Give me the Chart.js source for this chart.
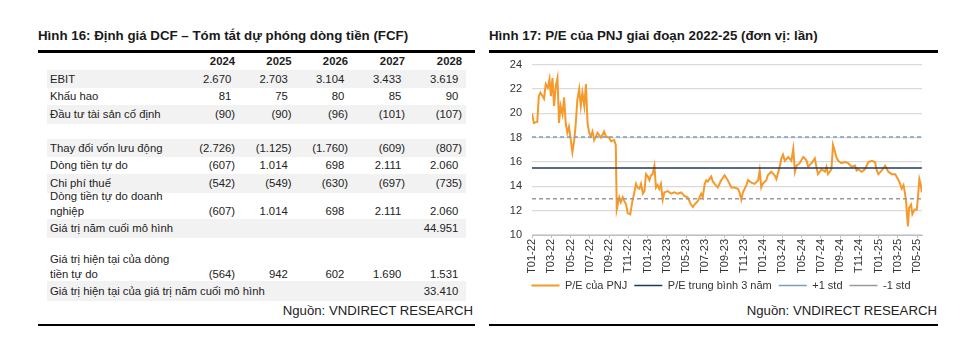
<!DOCTYPE html>
<html lang="vi">
<head>
<meta charset="utf-8">
<script src="https://cdn.jsdelivr.net/npm/chart.js@4.4.1/dist/chart.umd.min.js"></script>
<style>
  body { margin:0; width:979px; height:347px; background:#fff; font-family:"Liberation Sans", Arial, sans-serif; color:#222; position:relative; overflow:hidden; }
  .title { position:absolute; top:28px; font-size:13.3px; font-weight:bold; white-space:nowrap; color:#1a1a1a; }
  .rule { position:absolute; background:#000; }
  .src { position:absolute; top:303px; font-size:13.2px; white-space:nowrap; color:#222; }
  .row { position:absolute; left:47px; width:419px; font-size:11.3px; }
  .row.shade { background:#f2f2f2; }
  .lbl { position:absolute; left:3px; top:0; white-space:nowrap; }
  .val { position:absolute; top:0; white-space:nowrap; text-align:right; }
  .hdr .val { font-weight:bold; }
  #chartBox { position:absolute; left:489px; top:48px; width:449px; height:253px; }
</style>
</head>
<body>

<div class="title" style="left:38px">Hình 16: Định giá DCF – Tóm tắt dự phóng dòng tiền (FCF)</div>
<div class="rule" style="left:38px; top:50px; width:437px; height:3px"></div>
<div id="table"></div>
<div class="src" style="right:506px">Nguồn: VNDIRECT RESEARCH</div>
<div class="rule" style="left:38px; top:324px; width:437px; height:1.5px"></div>

<div class="title" style="left:489px">Hình 17: P/E của PNJ giai đoạn 2022-25 (đơn vị: lần)</div>
<div class="rule" style="left:489px; top:50px; width:449px; height:3px"></div>
<div id="chartBox"><canvas id="myChart"></canvas></div>
<div class="src" style="right:42px">Nguồn: VNDIRECT RESEARCH</div>
<div class="rule" style="left:489px; top:324px; width:449px; height:1.5px"></div>

<script>
// ---- bảng DCF ----
const years = ['2024', '2025', '2026', '2027', '2028'];
const rowLabels = [
  'EBIT', 'Khấu hao', 'Đầu tư tài sản cố định', '',
  'Thay đổi vốn lưu động', 'Dòng tiền tự do', 'Chi phí thuế',
  'Dòng tiền tự do doanh<br>nghiệp', 'Giá trị năm cuối mô hình', '',
  'Giá trị hiện tại của dòng<br>tiền tự do', 'Giá trị hiện tại của giá trị năm cuối mô hình'
];
const rowValues = [
  [2670, 2703, 3104, 3433, 3619],
  [81, 75, 80, 85, 90],
  [-90, -90, -96, -101, -107],
  null,
  [-2726, -1125, -1760, -609, -807],
  [-607, 1014, 698, 2111, 2060],
  [-542, -549, -630, -697, -735],
  [-607, 1014, 698, 2111, 2060],
  [null, null, null, null, 44951],
  null,
  [-564, 942, 602, 1690, 1531],
  [null, null, null, null, 33410]
];
// top, height, shaded, lines
const rowBoxes = [
  [70, 18, 1, 1], [88, 16, 0, 1], [104.5, 19, 1, 1], [123.5, 15, 0, 1],
  [138.5, 18.5, 1, 1], [157, 16.5, 0, 1], [173.5, 19, 1, 1], [189, 29.4, 0, 2],
  [219, 19, 1, 1], [238, 14, 0, 1], [252, 29.4, 0, 2], [281, 20, 1, 1]
];
const colRight = [231, 174.5, 118, 61, 4];

function fmt(v) {
  const s = Math.abs(v).toString().replace(/\B(?=(\d{3})+(?!\d))/g, '.');
  return v < 0 ? '(' + s + ')' : s + '<span style="visibility:hidden">)</span>';
}

let html = '<div class="row hdr" style="top:53px;height:17px;line-height:17px">';
years.forEach((y, i) => { html += `<div class="val" style="right:${colRight[i]}px">${y}</div>`; });
html += '</div>';
rowLabels.forEach((label, r) => {
  const [top, h, shade, lines] = rowBoxes[r];
  const lh = lines === 1 ? h : 14.7;
  html += `<div class="row${shade ? ' shade' : ''}" style="top:${top}px;height:${h}px;line-height:${lh}px">`;
  html += `<div class="lbl">${label}</div>`;
  if (rowValues[r]) {
    rowValues[r].forEach((v, i) => {
      if (v === null) return;
      html += `<div class="val" style="right:${colRight[i]}px;top:${h - lh}px">${fmt(v)}</div>`;
    });
  }
  html += '</div>';
});
document.getElementById('table').innerHTML = html;

// ---- biểu đồ P/E ----
const peDates = [
  '2022-01-01','2022-01-07','2022-01-18','2022-01-23','2022-01-28','2022-02-08','2022-02-13','2022-02-19','2022-02-24','2022-02-28',
  '2022-03-05','2022-03-10','2022-03-16','2022-03-21','2022-03-26','2022-03-31','2022-04-06','2022-04-11','2022-04-16','2022-04-21',
  '2022-04-26','2022-05-02','2022-05-07','2022-05-13','2022-05-18','2022-05-23','2022-05-29','2022-06-03','2022-06-08','2022-06-14',
  '2022-06-19','2022-06-24','2022-06-29','2022-07-04','2022-07-10','2022-07-15','2022-07-21','2022-07-26','2022-08-06','2022-08-16',
  '2022-08-22','2022-09-01','2022-09-07','2022-09-17','2022-09-22','2022-09-25','2022-10-03','2022-10-08','2022-10-14','2022-10-19',
  '2022-10-25','2022-10-30','2022-11-07','2022-11-14','2022-11-19','2022-11-25','2022-11-30','2022-12-06','2022-12-11','2022-12-17',
  '2022-12-22','2022-12-27','2023-01-02','2023-01-07','2023-01-12','2023-01-17','2023-01-23','2023-01-28','2023-02-02','2023-02-07',
  '2023-02-12','2023-02-17','2023-02-22','2023-03-04','2023-03-15','2023-03-25','2023-04-05','2023-04-16','2023-04-26','2023-05-06',
  '2023-05-17','2023-05-23','2023-05-28','2023-06-08','2023-06-18','2023-06-23','2023-06-29','2023-07-04','2023-07-09','2023-07-20',
  '2023-07-25','2023-07-31','2023-08-10','2023-08-21','2023-09-01','2023-09-11','2023-09-22','2023-10-02','2023-10-13','2023-10-18',
  '2023-10-24','2023-10-29','2023-11-09','2023-11-14','2023-11-24','2023-12-05','2023-12-16','2023-12-21','2023-12-26','2023-12-31',
  '2024-01-11','2024-01-16','2024-01-27','2024-02-07','2024-02-12','2024-02-22','2024-02-27','2024-03-03','2024-03-09','2024-03-20',
  '2024-03-30','2024-04-05','2024-04-10','2024-04-15','2024-04-25','2024-05-06','2024-05-11','2024-05-17','2024-05-22','2024-06-02',
  '2024-06-12','2024-06-17','2024-06-22','2024-07-03','2024-07-14','2024-07-19','2024-07-24','2024-08-04','2024-08-09','2024-08-20',
  '2024-08-26','2024-09-05','2024-09-16','2024-09-26','2024-10-07','2024-10-18','2024-10-23','2024-10-28','2024-11-08','2024-11-18',
  '2024-11-29','2024-12-10','2024-12-20','2024-12-26','2024-12-31','2025-01-11','2025-01-22','2025-02-01','2025-02-11','2025-02-21',
  '2025-03-03','2025-03-08','2025-03-13','2025-03-19','2025-03-24','2025-03-27','2025-04-02','2025-04-06','2025-04-12','2025-04-16',
  '2025-04-23','2025-04-30','2025-05-05','2025-05-08','2025-05-12','2025-05-16'
];
const peValues = [
  20.0, 19.2, 19.3, 21.4, 21.7, 21.2, 22.4, 22.1, 22.8, 21.4,
  22.9, 20.6, 22.3, 22.9, 19.2, 20.6, 19.9, 21.3, 19.2, 18.4,
  18.9, 17.8, 16.8, 17.8, 19.2, 21.1, 22.0, 20.6, 21.7, 20.6,
  22.4, 19.2, 18.4, 18.1, 18.5, 17.8, 18.1, 18.4, 18.0, 18.5,
  18.1, 18.0, 17.7, 17.8, 17.4, 12.1, 13.1, 12.7, 13.1, 12.8,
  12.5, 11.8, 11.7, 12.8, 13.4, 14.2, 13.9, 13.8, 14.2, 13.4,
  13.6, 15.0, 14.8, 14.5, 14.9, 15.0, 15.7, 13.9, 14.1, 13.8,
  14.2, 12.9, 13.5, 13.6, 13.4, 13.5, 13.4, 13.5, 13.2, 13.1,
  12.5, 12.3, 12.5, 12.8, 13.4, 13.1, 14.2, 14.5, 14.4, 14.8,
  14.4, 14.2, 13.9, 14.5, 14.9, 14.5, 13.9, 13.9, 13.8, 13.5,
  12.9, 13.5, 14.1, 14.5, 14.3, 14.2, 14.5, 15.3, 13.9, 14.2,
  14.5, 14.9, 15.2, 14.9, 14.6, 15.6, 16.3, 16.6, 16.1, 16.4,
  16.1, 17.1, 15.2, 15.7, 15.9, 16.4, 16.3, 16.1, 15.6, 15.9,
  16.3, 15.6, 15.0, 15.4, 15.2, 15.6, 15.0, 15.4, 17.4, 16.4,
  16.1, 15.9, 16.0, 15.9, 15.6, 15.7, 15.3, 15.4, 15.2, 15.4,
  16.0, 16.1, 16.0, 15.3, 15.0, 15.3, 15.7, 15.2, 15.0, 15.0,
  14.5, 14.2, 13.8, 14.1, 13.4, 12.8, 10.7, 12.25, 12.5, 11.7,
  12.1, 12.1, 13.6, 14.6, 14.2, 13.5
];
const peMean = 15.5;
const pePlusStd = 18.05;
const peMinusStd = 12.97;
const seriesNames = ['P/E của PNJ', 'P/E trung bình 3 năm', '+1 std', '-1 std'];

// vị trí theo tháng kể từ T01-22
const monthPos = d => {
  const [y, m, dd] = d.split('-').map(Number);
  const dim = new Date(y, m, 0).getDate();
  return (y - 2022) * 12 + (m - 1) + (dd - 1) / dim;
};
const pePoints = peDates.map((d, i) => ({ x: monthPos(d), y: peValues[i] }));
const flat = v => peDates.map(d => ({ x: monthPos(d), y: v }));

// đẩy chú giải sang phải một chút cho giống bản gốc
const legendShift = {
  id: 'legendShift',
  afterLayout(chart) { chart.legend.left += 31; }
};

const ctx = document.getElementById('myChart').getContext('2d');
const myChart = new Chart(ctx, {
  type: 'line',
  data: {
    datasets: [
      { label: seriesNames[0], data: pePoints, borderColor: '#f5992a', backgroundColor: '#f5992a', borderWidth: 2, pointRadius: 0, order: 4 },
      { label: seriesNames[1], data: flat(peMean), borderColor: '#1f3864', backgroundColor: '#1f3864', borderWidth: 1.6, pointRadius: 0, order: 1 },
      { label: seriesNames[2], data: flat(pePlusStd), borderColor: '#7d9dbd', backgroundColor: '#7d9dbd', borderWidth: 1.5, borderDash: [4, 3], pointRadius: 0, order: 2 },
      { label: seriesNames[3], data: flat(peMinusStd), borderColor: '#9a9a9a', backgroundColor: '#9a9a9a', borderWidth: 1.5, borderDash: [4, 3], pointRadius: 0, order: 3 }
    ]
  },
  plugins: [legendShift],
  options: {
    responsive: true,
    maintainAspectRatio: false,
    animation: false,
    layout: { padding: { top: 0, right: 16, left: 0, bottom: 0 } },
    plugins: {
      tooltip: { enabled: false },
      legend: {
        position: 'bottom',
        labels: {
          boxWidth: 28, boxHeight: 0, padding: 7, color: '#333', font: { family: 'Liberation Sans', size: 11 },
          sort: (a, b) => a.datasetIndex - b.datasetIndex
        }
      }
    },
    scales: {
      x: {
        type: 'linear', min: 0, max: 40.5,
        afterFit: s => { s.height = 38; },
        grid: { drawOnChartArea: false, drawTicks: true, tickLength: 3, color: '#bfbfbf' },
        border: { display: true, color: '#bfbfbf' },
        ticks: {
          stepSize: 2, includeBounds: false, autoSkip: false, maxRotation: 90, minRotation: 90, padding: 1,
          color: '#333', font: { family: 'Liberation Sans', size: 11 },
          callback: v => 'T' + String(v % 12 + 1).padStart(2, '0') + '-' + (22 + Math.floor(v / 12))
        }
      },
      y: {
        min: 10, max: 24,
        afterFit: s => { s.width = 43; },
        grid: { color: '#dadada', lineWidth: 1.3, drawTicks: false },
        border: { display: false },
        ticks: { stepSize: 2, padding: 10, color: '#333', font: { family: 'Liberation Sans', size: 11 } }
      }
    }
  }
});
</script>
</body>
</html>
